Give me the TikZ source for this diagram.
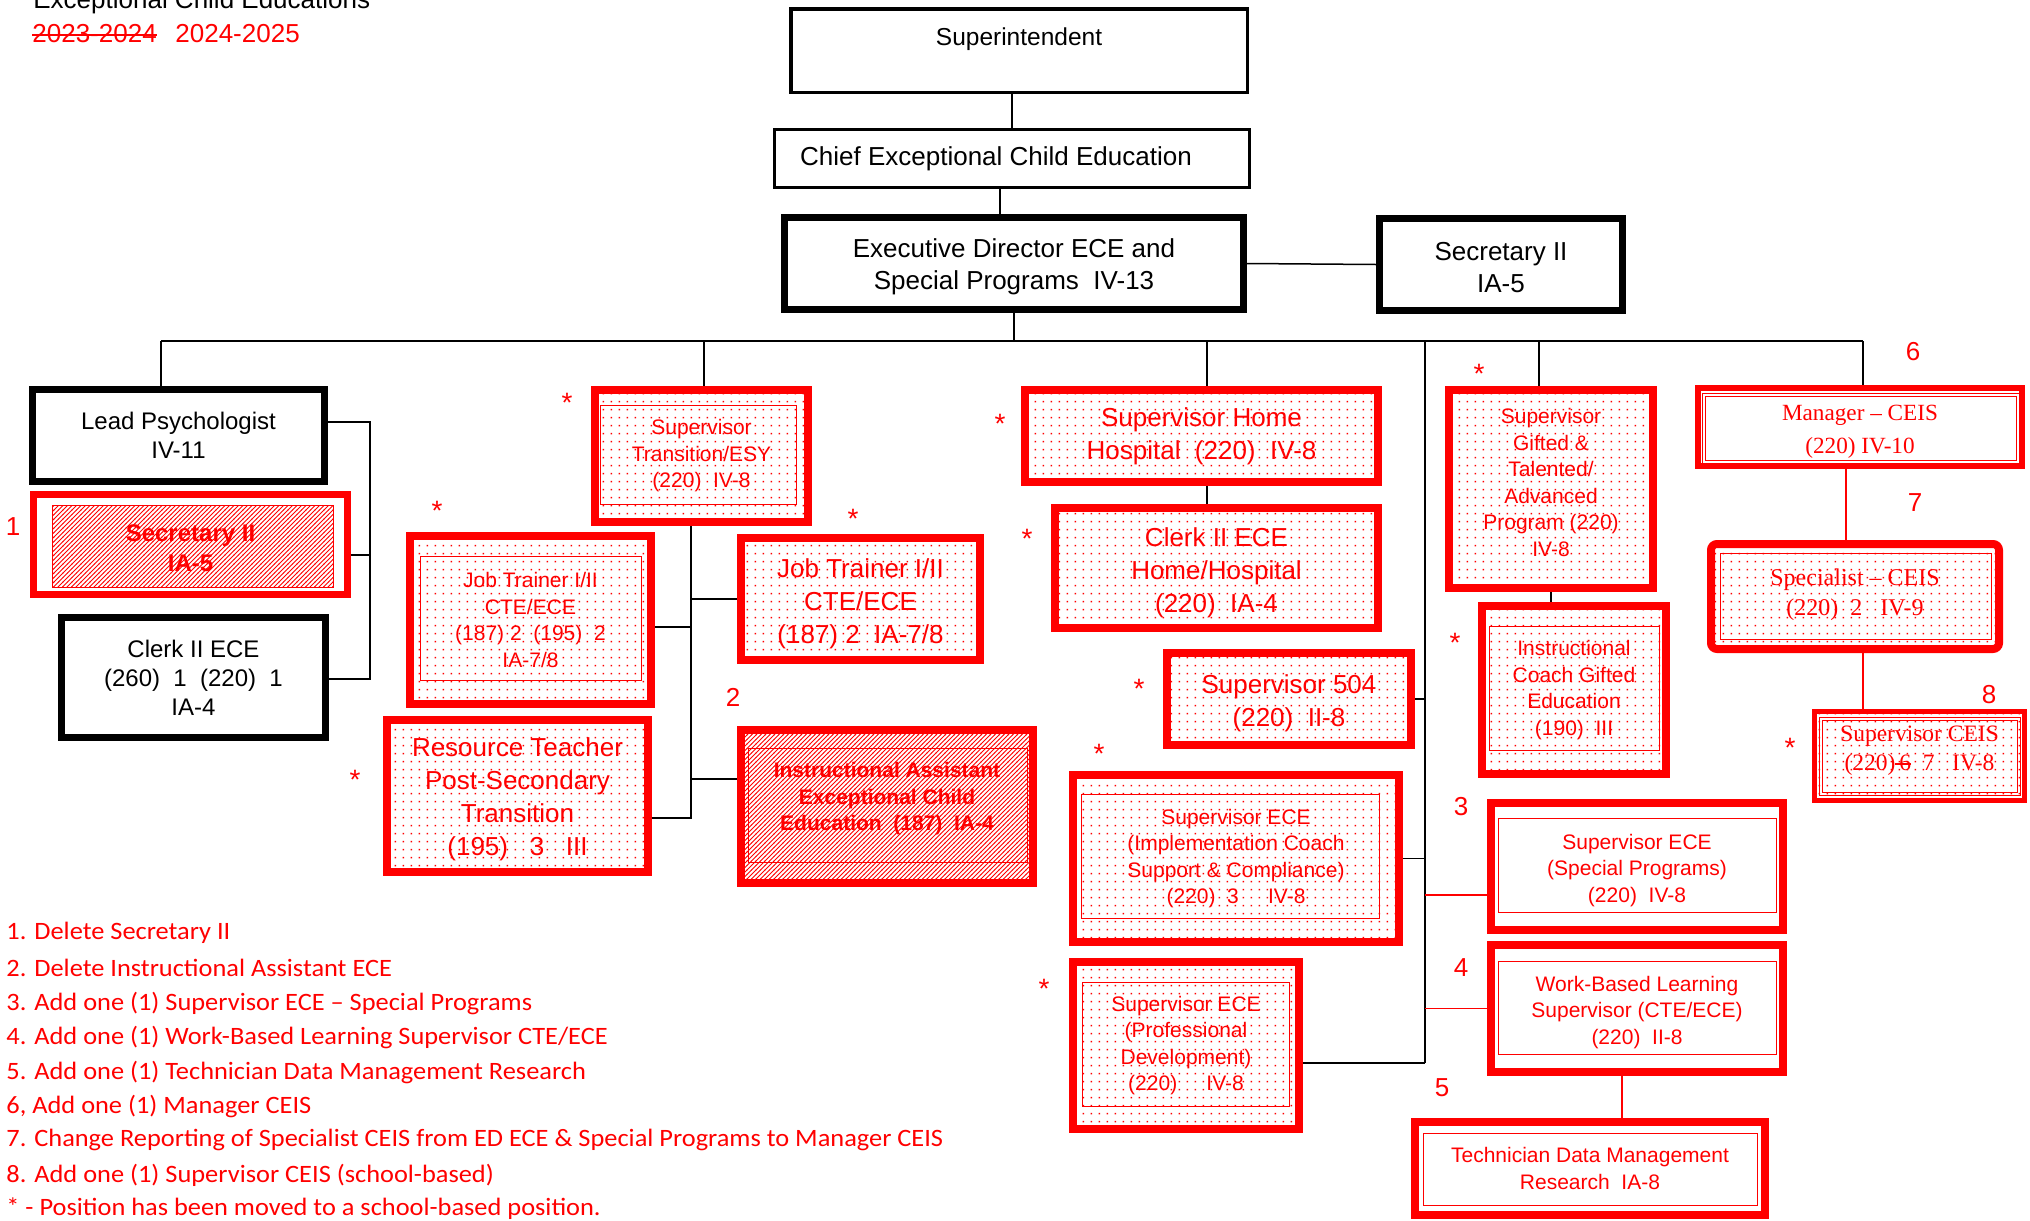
\documentclass[tikz,border=0pt]{standalone}
\usepackage{fontspec}
\setmainfont{Liberation Sans}
\newfontfamily\serifface{Liberation Serif}
\newfontfamily\notefont[FakeStretch=1.055]{Carlito}
\usetikzlibrary{patterns,calc}

% fine red dot screen for positions moved to schools
\pgfdeclarepatternformonly{ecedots}{\pgfqpoint{0pt}{0pt}}{\pgfqpoint{4pt}{4pt}}{\pgfqpoint{4pt}{4pt}}%
  {\pgfpathrectangle{\pgfqpoint{1.5pt}{1.5pt}}{\pgfqpoint{0.8pt}{0.8pt}}\pgfusepath{fill}}
% dense diagonal hatch for deleted positions
\pgfdeclarepatternformonly{ecehatch}{\pgfqpoint{-0.5pt}{-0.5pt}}{\pgfqpoint{2.75pt}{2.75pt}}{\pgfqpoint{2.25pt}{2.25pt}}%
  {\pgfsetlinewidth{0.5pt}\pgfpathmoveto{\pgfqpoint{-0.1pt}{-0.1pt}}\pgfpathlineto{\pgfqpoint{2.35pt}{2.35pt}}\pgfusepath{stroke}}

% struck-through text
\newcommand\strk[1]{\setbox0=\hbox{#1}\rlap{\rule[0.23em]{\wd0}{0.08em}}\box0}

\tikzset{
  % a box whose border centre line runs from (#1,#2) to (#3,#4)
  spanbox/.style args={#1/#2/#3/#4}{at={({(#1+#3)/2},{(#2+#4)/2})},
     minimum width={(#3-#1)*0.5pt}, minimum height={(#4-#2)*0.5pt}},
  % puts the last text baseline #1 below the box centre
  lastbase/.style={text height=#1, text depth=0pt},
  conn/.style={line width=0.75pt, draw=black},
  rconn/.style={line width=0.75pt, draw=red},
  bbox/.style={draw=black, line width=3.5pt, inner sep=0pt, align=center},
  rbox/.style={draw=red, line width=4pt, inner sep=0pt, align=center, text=red},
  dotfill/.style={pattern=ecedots, pattern color=red},
  hatchfill/.style={pattern=ecehatch, pattern color=red},
  bigtxt/.style={font=\fontsize{13}{16.5}\selectfont},
  smalltxt/.style={font=\fontsize{10.5}{13.25}\selectfont},
  blacktxt/.style={font=\fontsize{12}{14.6}\selectfont},
  thinrect/.style={draw=red, line width=0.5pt},
  astr/.style={text=red, anchor=north, inner sep=0pt, font=\fontsize{14}{14}\selectfont},
  numlbl/.style={text=red, inner sep=0pt, font=\fontsize{13}{13}\selectfont},
  legendtxt/.style={anchor=west, text=red, inner sep=0pt, font=\notefont\fontsize{12.5}{14}\selectfont}
}

\begin{document}
\begin{tikzpicture}[x=0.5pt,y=-0.5pt]
\useasboundingbox (0,0) rectangle (2030,1221);

% heading
\node[anchor=base west, inner sep=0pt, font=\fontsize{13}{13}\selectfont] (ttl) at (33,8) {Exceptional Child Educations};
\node[anchor=base west, inner sep=0pt, text=red, font=\fontsize{13}{13}\selectfont] (yrOld) at (32,42) {\strk{2023-2024}};
\node[anchor=base west, inner sep=0pt, text=red, font=\fontsize{13}{13}\selectfont] (yrNew) at (175,42) {2024-2025};

% ---------- top of the chart ----------
\node[bbox, line width=1.75pt, font=\fontsize{12.25}{15}\selectfont, text depth=13.4pt,
      spanbox=790.75/8.75/1247.25/92.25] (sup) {Superintendent};
\node[bbox, line width=1.5pt, font=\fontsize{13}{16}\selectfont,
      spanbox=774.5/129.5/1249.5/187.5] (chief) {Chief Exceptional Child Education\kern16pt};
\node[bbox, font=\fontsize{13}{16}\selectfont, lastbase=25.8pt,
      spanbox=784.5/217.5/1243.5/309.5] (exec) {Executive Director ECE and\\Special Programs~ IV-13};
\node[bbox, font=\fontsize{13}{16}\selectfont, lastbase=27.5pt,
      spanbox=1379.5/218.5/1622.5/310.5] (sec) {Secretary II\\IA-5};

% ---------- left group ----------
\node[bbox, blacktxt, spanbox=32.5/389.5/324.5/481.5] (lead) {Lead Psychologist\\IV-11};
\draw[thinrect, hatchfill] (52,505) rectangle (333,587);
\node[rbox, line width=3.5pt, font=\bfseries\fontsize{12}{15}\selectfont, lastbase=27pt,
      spanbox=33.5/494.5/347.5/594.5] (secx) {Secretary II\\IA-5};
\node[bbox, blacktxt, spanbox=61.5/617.5/325.5/737.5] (clerk) {Clerk II ECE\\(260)~ 1~ (220)~ 1\\IA-4};

% ---------- transition group ----------
\node[rbox, dotfill, smalltxt, spanbox=595/390/808/522] (trans) {Supervisor\\Transition/ESY\\(220)~ IV-8};
\draw[thinrect] (600,405) rectangle (796,504);
\node[rbox, dotfill, smalltxt, spanbox=410/536/651/704] (jtL) {Job Trainer I/II\\CTE/ECE\\(187) 2~ (195)~ 2\\IA-7/8};
\draw[thinrect] (420,556) rectangle (641,680);
\node[rbox, dotfill, bigtxt, lastbase=44.5pt, spanbox=741/538/980/660] (jtR) {Job Trainer I/II\\CTE/ECE\\(187) 2~ IA-7/8};
\node[rbox, dotfill, bigtxt, lastbase=59.5pt, spanbox=387/720/648/872] (rt) {Resource Teacher\\Post-Secondary\\Transition\\(195)~~ 3~~ III};
\node[rbox, hatchfill, font=\bfseries\fontsize{10.5}{13.25}\selectfont, text depth=10pt,
      spanbox=741/730/1033/883] (ia) {Instructional Assistant\\Exceptional Child\\Education~ (187)~ IA-4};
\draw[thinrect] (748,748) rectangle (1027,862);

% ---------- home / hospital and spine group ----------
\node[rbox, dotfill, bigtxt, spanbox=1025/390/1378/482] (home) {Supervisor Home\\Hospital~ (220)~ IV-8};
\node[rbox, dotfill, bigtxt, lastbase=44pt, spanbox=1055/508/1378/628] (clerkH) {Clerk II ECE\\Home/Hospital\\(220)~ IA-4};
\node[rbox, dotfill, bigtxt, lastbase=27pt, spanbox=1167/653/1411/745] (s504) {Supervisor 504\\(220)~ II-8};
\node[rbox, dotfill, smalltxt, spanbox=1073/775/1399/942] (impl) {Supervisor ECE\\(Implementation Coach\\Support \& Compliance)\\(220)~ 3~~~~ IV-8};
\draw[thinrect] (1081,794) rectangle (1379,918);
\node[rbox, dotfill, smalltxt, spanbox=1073/962/1299/1129] (pd) {Supervisor ECE\\(Professional\\Development)\\(220)~~~~ IV-8};
\draw[thinrect] (1082,982) rectangle (1289,1106);

% ---------- gifted group ----------
\node[rbox, dotfill, smalltxt, text depth=6.5pt, spanbox=1449/390/1653/588] (gift) {Supervisor\\Gifted \&\\Talented/\\Advanced\\Program (220)\\IV-8};
\node[rbox, dotfill, smalltxt, spanbox=1482/606/1666/774] (coach) {Instructional\\Coach Gifted\\Education\\(190)~ III};
\draw[thinrect] (1489,626) rectangle (1659,750);

% ---------- new positions ----------
\node[rbox, smalltxt, lastbase=35.5pt, spanbox=1491/803/1783/930] (spec) {Supervisor ECE\\(Special Programs)\\(220)~ IV-8};
\draw[thinrect] (1498,818) rectangle (1776,912);
\node[rbox, smalltxt, lastbase=35.5pt, spanbox=1491/945/1783/1072] (wbl) {Work-Based Learning\\Supervisor (CTE/ECE)\\(220)~ II-8};
\draw[thinrect] (1498,961) rectangle (1776,1054);
\node[rbox, smalltxt, spanbox=1415/1122/1765/1215] (tech) {Technician Data Management\\Research~ IA-8};
\draw[thinrect] (1423,1133) rectangle (1757,1205);

% ---------- CEIS group ----------
\node[rbox, line width=3pt, font=\serifface\fontsize{11.6}{16.5}\selectfont, lastbase=26pt,
      spanbox=1698/388/2022/466] (mgr) {Manager – CEIS\\(220) IV-10};
\draw[thinrect] (1702,393) rectangle (2019,463);
\draw[thinrect] (1705,396) rectangle (2016,460);
\node[rbox, dotfill, rounded corners=3pt, font=\serifface\fontsize{12}{15}\selectfont, lastbase=19pt,
      spanbox=1711/544/1999/649] (spl) {Specialist – CEIS\\(220)~ 2~~ IV-9};
\draw[thinrect] (1720,553) rectangle (1991,639);
\node[rbox, dotfill, line width=2.5pt, font=\serifface\fontsize{11.75}{14.5}\selectfont, text depth=8pt,
      spanbox=1814.25/711.25/2024.75/800.75] (supc) {Supervisor CEIS\\(220)\strk{\,6}~ 7~~ IV-8};
\draw[thinrect] (1819,717) rectangle (2020,795);
\draw[thinrect] (1822,720) rectangle (2017,792);

% ---------- connectors ----------
\coordinate (busW) at (161,341);
\coordinate (busE) at (1863,341);
\coordinate (dTrans) at (704,341);
\coordinate (dHome) at (1207,341);
\coordinate (spineT) at (1425,341);
\coordinate (spineB) at (1425,1063);
\coordinate (dGift) at (1539,341);
\coordinate (tapSP) at (1425,895);
\coordinate (brT) at (370,422);
\coordinate (brM) at (370,555);
\coordinate (brB) at (370,679);
\coordinate (tsB) at (691,818);
\coordinate (tsL) at (691,627);
\coordinate (tsIA) at (691,779);
\coordinate (mD) at (1846,500);
\coordinate (sD) at (1863,680);
\coordinate (wD) at (1622,1100);

\draw[conn] (chief.north) -- (chief.north |- sup.south);
\draw[conn] ([xshift=-6pt]chief.south) -- ([xshift=-6pt]chief.south |- exec.north);
\draw[conn] (exec.east) -- (sec.west);
\draw[conn] (exec.south) -- (exec.south |- busW);
\draw[conn] (busW) -- (busE);
\draw[conn] (busW) -- (busW |- lead.north);
\draw[conn] (dTrans) -- (dTrans |- trans.north);
\draw[conn] (dHome) -- (dHome |- home.north);
\draw[conn] (dGift) -- (dGift |- gift.north);
\draw[conn] (busE) -- (busE |- mgr.north);

\draw[conn] (lead.east |- brT) -- (brT) -- (brB) -- (clerk.east |- brB);
\draw[conn] (brM) -- (brM -| secx.east);

\draw[conn] (tsB |- trans.south) -- (tsB) -- (tsB -| rt.east);
\draw[conn] (jtR.west -| tsB) -- (jtR.west);
\draw[conn] (tsL) -- (tsL -| jtL.east);
\draw[conn] (tsIA) -- (tsIA -| ia.west);

\draw[conn] (dHome |- home.south) -- (dHome |- clerkH.north);
\draw[conn] (spineT) -- (spineB);
\draw[conn] (s504.east) -- (s504.east -| spineT);
\draw[conn] (impl.east) -- (impl.east -| spineT);
\draw[conn] (spineB) -- (spineB -| pd.east);
\draw[rconn] (tapSP) -- (tapSP -| spec.west);
\draw[rconn] (wbl.west -| spineT) -- (wbl.west);
\draw[rconn] (wbl.south -| wD) -- (tech.north -| wD);

\draw[conn] (gift.south) -- (gift.south |- coach.north);
\draw[rconn] (mgr.south -| mD) -- (spl.north -| mD);
\draw[rconn] (spl.south -| sD) -- (supc.north -| sD);

% ---------- change numbers ----------
\node[numlbl] (n1) at (13,527) {1};
\node[numlbl] (n2) at (733,697) {2};
\node[numlbl] (n3) at (1461,807) {3};
\node[numlbl] (n4) at (1461,968) {4};
\node[numlbl] (n5) at (1442,1088) {5};
\node[numlbl] (n6) at (1913,352) {6};
\node[numlbl] (n7) at (1915,503) {7};
\node[numlbl] (n8) at (1989,695) {8};

% ---------- school-based markers ----------
\node[astr] (a1) at (567,393) {*};
\node[astr] (a2) at (437,501) {*};
\node[astr] (a3) at (853,509) {*};
\node[astr] (a4) at (355,770) {*};
\node[astr] (a5) at (1000,414) {*};
\node[astr] (a6) at (1027,529) {*};
\node[astr] (a7) at (1139,679) {*};
\node[astr] (a8) at (1099,744) {*};
\node[astr] (a9) at (1044,979) {*};
\node[astr] (a10) at (1479,364) {*};
\node[astr] (a11) at (1455,633) {*};
\node[astr] (a12) at (1790,738) {*};

% ---------- notes ----------
\node[legendtxt] (l1) at (6,933) {1. Delete Secretary II};
\node[legendtxt] (l2) at (6,968) {2. Delete Instructional Assistant ECE};
\node[legendtxt] (l3) at (6,1003) {3. Add one (1) Supervisor ECE – Special Programs};
\node[legendtxt] (l4) at (6,1037) {4. Add one (1) Work-Based Learning Supervisor CTE/ECE};
\node[legendtxt] (l5) at (6,1072) {5. Add one (1) Technician Data Management Research};
\node[legendtxt] (l6) at (6,1106) {6, Add one (1) Manager CEIS};
\node[legendtxt] (l7) at (6,1140) {7. Change Reporting of Specialist CEIS from ED ECE \& Special Programs to Manager CEIS};
\node[legendtxt] (l8) at (6,1175) {8. Add one (1) Supervisor CEIS (school-based)};
\node[legendtxt] (l9) at (6,1209) {* - Position has been moved to a school-based position.};
\end{tikzpicture}
\end{document}
